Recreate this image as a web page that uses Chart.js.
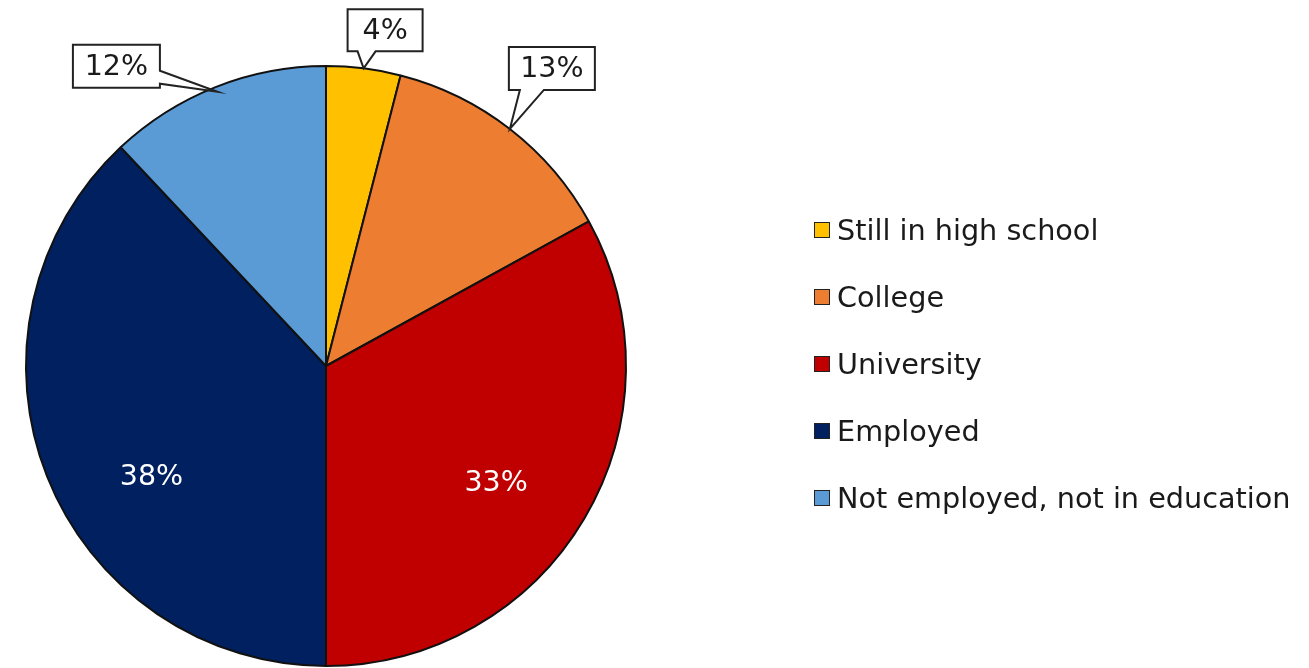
<!DOCTYPE html>
<html>
<head>
<meta charset="utf-8">
<script src="https://cdn.jsdelivr.net/npm/chart.js@4/dist/chart.umd.min.js"></script>
<style>
    body { margin: 0; background: #fff; overflow: hidden; }
    #wrap { position: relative; width: 1309px; height: 668px; }
    #legend { position: absolute; left: 814px; top: 196px; font-family: "DejaVu Sans", Verdana, sans-serif; font-size: 28.7px; color: #1a1a1a; }
    .row { display: flex; align-items: center; height: 67.2px; white-space: pre; }
    .sw { width: 14px; height: 14px; border: 1.5px solid #222; margin-right: 7px; }
</style>
</head>
<body>
<div id="wrap">
    <canvas id="pie" width="1309" height="668"></canvas>
    <div id="legend"></div>
</div>
<script>
// data
const categories = ['Still in high school', 'College', 'University', 'Employed', 'Not employed, not in education'];
const shares = [4, 13, 33, 38, 12];
const sliceColors = ['#FFC000', '#ED7D31', '#C00000', '#002060', '#5B9BD5'];

// label placement per slice (callout boxes outside, plain text inside)
const labelSpec = [
    { kind: 'callout', dx: 21.5, dy: -38, w: 75, h: 42, side: 'bottom', base: [-6, 12], inset: 0 },
    { kind: 'callout', dx: 42, dy: -60.5, w: 86, h: 43, side: 'bottom', base: [10, 34], inset: 0 },
    { kind: 'inside', at: 0.535, r: 0.69 },
    { kind: 'inside', at: 0.42, r: 0.69 },
    { kind: 'callout', dx: -101, dy: -25.5, w: 87, h: 43, side: 'right', base: [-21, -8], inset: 5 }
];

const FONT = '28.5px "DejaVu Sans", Verdana, sans-serif';

// legend
const legendBox = document.getElementById('legend');
categories.forEach((name, i) => {
    legendBox.innerHTML += `<div class="row"><span class="sw" style="background:${sliceColors[i]}"></span>${name}</div>`;
});

const labelPlugin = {
    id: 'pctLabels',
    afterDatasetsDraw(chart) {
        const ctx = chart.ctx;
        const arcs = chart.getDatasetMeta(0).data;
        ctx.save();
        ctx.font = FONT;
        ctx.textAlign = 'center';
        ctx.textBaseline = 'middle';
        arcs.forEach((arc, i) => {
            const spec = labelSpec[i];
            const text = shares[i] + '%';
            const { x, y, startAngle, endAngle, outerRadius } = arc.getProps(['x', 'y', 'startAngle', 'endAngle', 'outerRadius'], true);
            if (spec.kind === 'inside') {
                const a = startAngle + spec.at * (endAngle - startAngle);
                const r = outerRadius * spec.r;
                ctx.fillStyle = '#ffffff';
                ctx.fillText(text, x + r * Math.cos(a), y + r * Math.sin(a));
                return;
            }
            const a = (startAngle + endAngle) / 2;
            const tr = outerRadius - spec.inset;
            const tx = x + tr * Math.cos(a);
            const ty = y + tr * Math.sin(a);
            const cx = tx + spec.dx, cy = ty + spec.dy;
            const l = cx - spec.w / 2, r = cx + spec.w / 2, t = cy - spec.h / 2, b = cy + spec.h / 2;
            ctx.beginPath();
            ctx.moveTo(l, t);
            ctx.lineTo(r, t);
            if (spec.side === 'right') {
                ctx.lineTo(r, ty + spec.base[0]);
                ctx.lineTo(tx, ty);
                ctx.lineTo(r, ty + spec.base[1]);
                ctx.lineTo(r, b);
                ctx.lineTo(l, b);
            } else {
                ctx.lineTo(r, b);
                ctx.lineTo(tx + spec.base[1], b);
                ctx.lineTo(tx, ty);
                ctx.lineTo(tx + spec.base[0], b);
                ctx.lineTo(l, b);
            }
            ctx.closePath();
            ctx.fillStyle = '#ffffff';
            ctx.fill();
            ctx.lineWidth = 2;
            ctx.strokeStyle = '#222';
            ctx.lineJoin = 'miter';
            ctx.stroke();
            ctx.fillStyle = '#1a1a1a';
            ctx.fillText(text, cx, cy + 1);
        });
        ctx.restore();
    }
};

new Chart(document.getElementById('pie'), {
    type: 'pie',
    data: {
        labels: categories,
        datasets: [{
            data: shares,
            backgroundColor: sliceColors,
            borderColor: '#111',
            borderWidth: 2
        }]
    },
    options: {
        responsive: false,
        animation: false,
        layout: { padding: { left: 22, right: 679, top: 65, bottom: 1 } },
        plugins: {
            legend: { display: false },
            tooltip: { enabled: false }
        }
    },
    plugins: [labelPlugin]
});
</script>
</body>
</html>
